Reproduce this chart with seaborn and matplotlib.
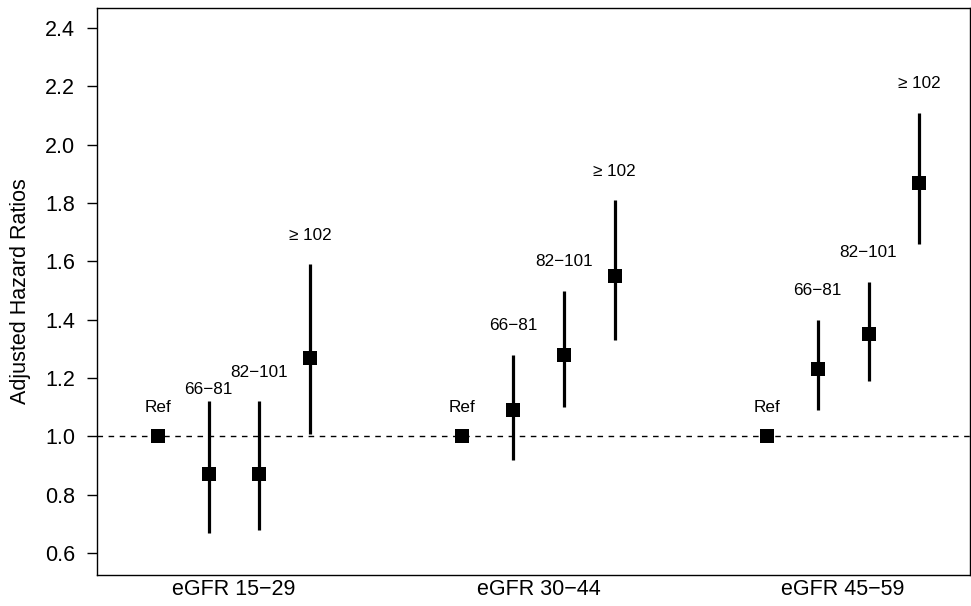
import numpy as np
import pandas as pd
import matplotlib
matplotlib.use("Agg")
import matplotlib.pyplot as plt
import seaborn as sns

groups = ["eGFR 15\u221229", "eGFR 30\u221244", "eGFR 45\u221259"]
levels = ["Ref", "66\u221281", "82\u2212101", "\u2265 102"]

hr = [1.00, 0.87, 0.87, 1.27,
      1.00, 1.09, 1.28, 1.55,
      1.00, 1.23, 1.35, 1.87]
lower = [np.nan, 0.67, 0.68, 1.01,
         np.nan, 0.92, 1.10, 1.33,
         np.nan, 1.09, 1.19, 1.66]
upper = [np.nan, 1.12, 1.12, 1.59,
         np.nan, 1.28, 1.50, 1.81,
         np.nan, 1.40, 1.53, 2.11]

sns.set_style("ticks")
plt.rcParams["font.family"] = ["Liberation Sans", "DejaVu Sans"]
plt.rcParams["text.color"] = "black"
plt.rcParams["axes.labelcolor"] = "black"
plt.rcParams["xtick.color"] = "black"
plt.rcParams["ytick.color"] = "black"

# positions: 4 points per group, 6 units between groups
pos = [g * 6 + k + 1 for g in range(len(groups)) for k in range(len(levels))]
df = pd.DataFrame({
    "x": pos,
    "hr": hr,
    "lower": lower,
    "upper": upper,
    "label": levels * len(groups),
})

fig = plt.figure(figsize=(9.71, 6.06), dpi=100)
ax = fig.add_axes([0.0999, 0.0512, 0.8991, 0.9356])

ax.axhline(1.0, color="black", lw=1.0, ls=(0, (4, 4)), zorder=1)

ci = df.dropna()
ax.vlines(ci["x"], ci["lower"], ci["upper"], color="black", lw=2.3, zorder=2)

sns.scatterplot(data=df, x="x", y="hr", marker="s", s=105, color="black",
                edgecolor="black", linewidth=0, zorder=3, ax=ax, legend=False)

# label heights
for i, row in df.iterrows():
    if np.isnan(row["upper"]):
        ly = row["hr"] + 0.10
    elif i == 1:
        ly = row["upper"] + 0.04
    else:
        ly = row["upper"] + 0.10
    ax.text(row["x"], ly, row["label"], ha="center", va="center",
            fontsize=12.3, color="black")

ax.set_xlim(-0.2, 17.0)
ax.set_ylim(0.525, 2.469)
yt = np.arange(0.6, 2.41, 0.2)
ax.set_yticks(yt)
ax.set_yticklabels([f"{v:.1f}" for v in yt], fontsize=15.5)
centers = [g * 6 + 2.5 for g in range(len(groups))]
ax.set_xticks(centers)
ax.set_xticklabels(groups, fontsize=15.5)
ax.tick_params(axis="x", length=0, pad=3)
ax.tick_params(axis="y", length=7.2, width=1, pad=8.5)
ax.set_xlabel("")
ax.set_ylabel("Adjusted Hazard Ratios", fontsize=15.5, labelpad=10)
for s in ax.spines.values():
    s.set_visible(True)
    s.set_linewidth(1.0)
    s.set_color("black")

fig.savefig("out.png", dpi=100)
